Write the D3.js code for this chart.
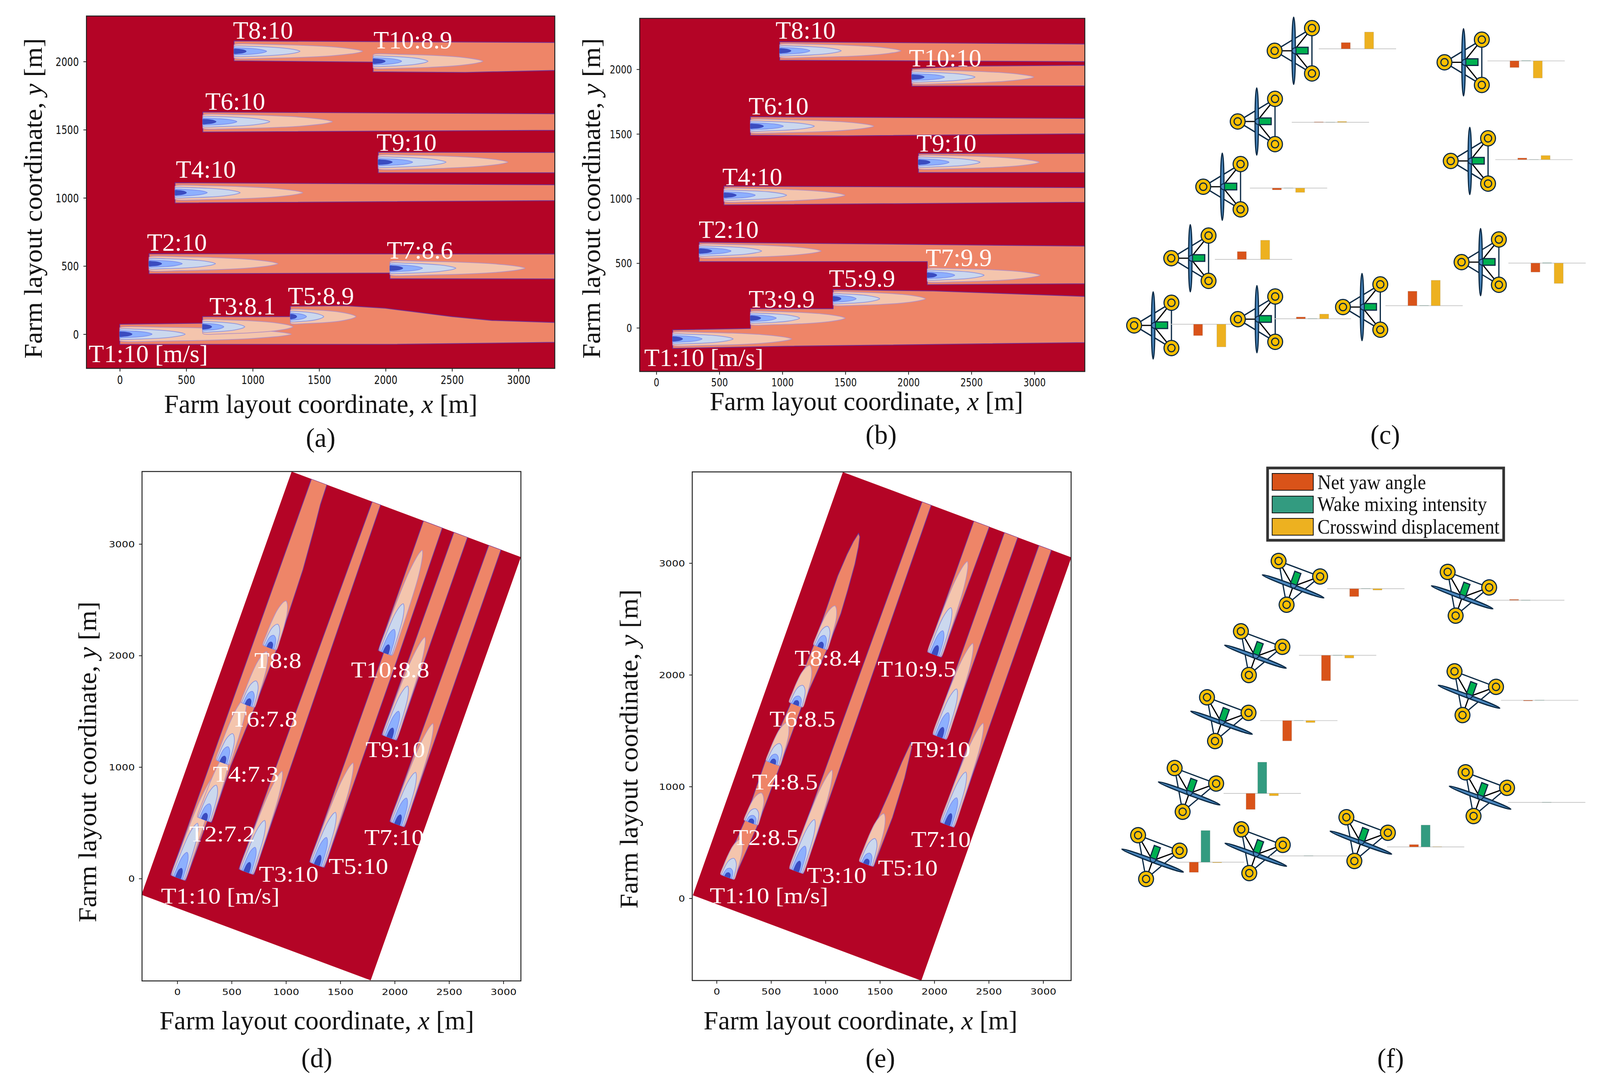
<!DOCTYPE html>
<html>
<head>
<meta charset="utf-8">
<script src="https://cdn.jsdelivr.net/npm/d3@7"></script>
<style>
  html, body { margin: 0; padding: 0; background: #fff; overflow: hidden; }
  svg { display: block; }
</style>
</head>
<body>
<div id="container"></div>
<script>
/* CONSTANTS AND GLOBALS */
const width = 4202, height = 2780;
const serif = "'Liberation Serif', serif";

/* DATA */
const turbines = ["T1","T2","T3","T4","T5","T6","T7","T8","T9","T10"];
const xTicks = [0,500,1000,1500,2000,2500,3000];
const yTicksFlat = [0,500,1000,1500,2000];
const yTicksTall = [0,1000,2000,3000];

// turbine positions [m], T1..T10
const xA = [0,220,623,416,1284,625,2033,860,1945,1906];
const yA = [0,517,54,1038,129,1559,484,2075,1262,2002];
const xB = [130,340,747,537,1403,747,2150,979,2080,2028];
const yB = [-86,594,75,1026,225,1560,407,2143,1281,1940];
const xD = [8,246,636,416,1284,647,2023,848,1951,1917];
const yD = [7,529,60,1041,124,1556,487,2071,1265,2021];
const xE = [98,315,731,516,1373,728,2118,952,2049,2001];
const yE = [191,677,244,1208,308,1732,659,2246,1445,2182];

// inflow speed at each turbine [m/s]
const speedA = ["10","10","8.1","10","8.9","10","8.6","10","10","8.9"];
const speedB = ["10","10","9.9","10","9.9","10","9.9","10","10","10"];
const speedD = ["10","7.2","10","7.3","10","7.8","10","8","10","8.8"];
const speedE = ["10","8.5","10","8.5","10","8.5","10","8.4","10","9.5"];

// downstream length of each speed contour [m], deepest level first
const lenA = [[92,243,492,1290],[95,250,500,970],[68,160,318,680],[85,242,490,961],[47,121,251,493],
              [99,256,504,975],[96,245,496,1016],[91,245,496,967],[105,259,510,975],[91,215,413,826]];
const lenB = [[78,233,480,944],[100,253,496,968],[81,205,391,752],[97,248,497,960],[62,183,370,733],
              [103,261,507,978],[75,218,451,895],[89,240,488,962],[92,243,489,958],[97,259,501,967]];
const lenD = [[90,242,520,970],[60,150,328,650],[90,234,491,960],[60,150,275,620],[90,260,500,971],
              [60,130,230,510],[90,250,495,960],[53,117,223,446],[90,250,491,956],[80,227,472,982]];
const lenE = [[40,83,177,358],[35,68,132,283],[94,237,490,961],[40,87,188,388],[45,102,241,479],
              [40,83,185,377],[105,256,501,965],[49,113,200,396],[90,230,456,889],[85,226,445,885]];

// half width of each contour [m] and the bullet outline (along, across) as fractions
const halfFlat = [17,25,38,53];
const halfTilted = [24,42,56,68];
const bulletAlong = [0,.015,.25,.5,.75,.9,.97,1];
const bulletFlat = [.88,1,.96,.85,.63,.37,.17,0];
const bulletTilted = [.9,1,.98,.9,.72,.45,.22,0];

// outer wake envelopes in the wind frame [along, across]
const bandsA = [
  [[860,2005],[860,2151],[3273,2140],[3273,1935],[2600,1920],[1906,1925],[1906,1996]],
  [[625,1483],[625,1630],[3273,1617],[3273,1496]],
  [[1945,1184],[1945,1335],[3273,1333],[3273,1184]],
  [[416,962],[416,1111],[3273,1096],[3273,980]],
  [[220,443],[220,590],[3273,588],[3273,405],[2033,407],[2033,448]],
  [[0,-75],[0,73],[623,80],[623,129],[1284,129],[1284,205],[1700,209],[2000,190],[2200,166],[2350,147],[2500,129],[2800,101],[3273,86],[3273,-60],[2000,-75]]
];
const bandsB = [
  [[979,2070],[979,2213],[3400,2195],[3400,2059]],
  [[2028,1870],[2028,2006],[2500,2025],[3400,2031],[3400,1872]],
  [[747,1490],[747,1633],[3400,1620],[3400,1501],[1500,1485]],
  [[2080,1201],[2080,1349],[3400,1349],[3400,1201]],
  [[537,951],[537,1096],[3400,1085],[3400,971]],
  [[340,512],[340,662],[3400,632],[3400,341],[2150,334],[2150,512]],
  [[130,-159],[130,-16],[747,-5],[747,148],[1403,148],[1403,296],[2200,285],[3400,243],[3400,-114],[1000,-143]]
];
const bandsD = [
  [[9,69],[3790,66],[3790,-86],[3600,-91],[3400,-110],[3000,-140],[2600,-150],[2236,-157],[1683,-145],[1120,-118],[581,-124],[581,-85],[9,-79]],
  [[274,-503],[3790,-529],[3790,-612],[274,-651]],
  [[556,-1091],[2555,-1091],[2555,-1036],[3790,-1031],[3790,-1216],[2555,-1230],[556,-1239]],
  [[1856,-1326],[3790,-1329],[3790,-1463],[1856,-1474]],
  [[1150,-1660],[3790,-1670],[3790,-1790],[1150,-1808]]
];
const bandsE = [
  [[213,34],[736,-5],[1298,0],[1839,-41],[2431,-63],[3092,-58],[3300,-72],[3430,-88],[3516,-108],[3490,-130],[3400,-150],[3244,-172],[3000,-190],[2784,-202],[2441,-193],[1871,-148],[1311,-143],[734,-131],[213,-92]],
  [[479,-536],[3982,-560],[3982,-650],[479,-674]],
  [[760,-1119],[1100,-1140],[1422,-1165],[1727,-1181],[1924,-1200],[1880,-1225],[1603,-1256],[1233,-1272],[760,-1259]],
  [[2735,-1065],[3982,-1066],[3982,-1218],[2735,-1205]],
  [[2059,-1365],[3982,-1365],[3982,-1496],[2059,-1499]],
  [[1343,-1698],[3982,-1702],[3982,-1825],[1343,-1834]]
];

// bars next to the turbine sketches, T1..T10
const barCategories = ["Net yaw angle","Wake mixing intensity","Crosswind displacement"];
const yawC = [-29,20,4.5,-4.5,37,1,-23,16,4,-17];
const mixC = [0,0,.5,.3,.5,.3,.8,0,.3,.8];
const crossC = [-58,49,12,-11,65,2,-52,43,10.5,-44];
const yawF = [-26,-41,0,-52,6,-65,0,-20,-1.5,2];
const mixF = [81,80,.5,.5,56,.5,.5,.5,.5,.5];
const crossF = [-1.4,-6,0,-5,.7,-7,0,-3.5,0,0];

/* COLORS */
const bg = "#b40426";
const levelFill = ["#3b4cc0","#8db0fe","#cbd8ee","#f4c5ad"];
const levelLine = ["#3b4cc0","#7d8fee","#8f93dc","#b48fc0"];
const bandFill = "#ee8568", bandLine = "#6f2f96";
const barFill = ["#d95319","#339b80","#edb120"];

/* PANEL LAYOUT */
const panels = [
  {id:"a", x:xA, y:yA, speed:speedA, len:lenA, bands:bandsA, half:halfFlat, bullet:bulletFlat, angle:0, yTicks:yTicksFlat,
   xDomain:[-251,3273], yDomain:[-251,2334], left:227, right:1457, top:41, bottom:943,
   field:{s:[-251,3273], n:[-251,2334]}, tick:{size:24, sx:1, sy:1.23, base:40, yoff:20}, lab:{size:64, stretch:1.03},
   labelAt:[[233,927],[386,642],[550,805],[462,455],[756,779],[539,281],[1016,662],[612,99],[989,386],[981,124]],
   xLabel:[431,1254,1057], yLabel:[110,98,918], tag:[842,1144]},
  {id:"b", x:xB, y:yB, speed:speedB, len:lenB, bands:bandsB, half:halfFlat, bullet:bulletFlat, angle:0, yTicks:yTicksFlat,
   xDomain:[-132,3400], yDomain:[-338,2394], left:1680, right:2849, top:47, bottom:951,
   field:{s:[-132,3400], n:[-338,2394]}, tick:{size:23, sx:1, sy:1.23, base:38, yoff:20}, lab:{size:64, stretch:1.03},
   labelAt:[[1692,937],[1835,609],[1966,787],[1897,474],[2177,734],[1966,293],[2431,681],[2037,99],[2407,388],[2387,170]],
   xLabel:[1864,2687,1050], yLabel:[1576,98,918], tag:[2314,1136]},
  {id:"d", x:xD, y:yD, speed:speedD, len:lenD, bands:bandsD, half:halfTilted, bullet:bulletTilted, angle:70, yTicks:yTicksTall,
   xDomain:[-324,3161], yDomain:[-918,3650], left:373, right:1368, top:1207, bottom:2511,
   field:{s:[-250,3790], n:[-1985,260]}, tick:{size:24, sx:1.12, sy:.92, base:36, yoff:19}, lab:{size:58, stretch:1.13},
   labelAt:[[423,2313],[497,2154],[680,2257],[559,2001],[863,2237],[608,1860],[957,2163],[668,1710],[960,1938],[922,1734]],
   xLabel:[419,1245,2635], yLabel:[252,1540,2361], tag:[832,2732]},
  {id:"e", x:xE, y:yE, speed:speedE, len:lenE, bands:bandsE, half:halfTilted, bullet:bulletTilted, angle:70, yTicks:yTicksTall,
   xDomain:[-224,3257], yDomain:[-736,3816], left:1818, right:2813, top:1208, bottom:2510,
   field:{s:[-50,3982], n:[-2020,215]}, tick:{size:24, sx:1.12, sy:.92, base:36, yoff:19}, lab:{size:58, stretch:1.13},
   labelAt:[[1864,2312],[1925,2163],[2119,2260],[1975,2021],[2306,2241],[2021,1860],[2393,2168],[2087,1704],[2392,1938],[2305,1732]],
   xLabel:[1848,2672,2635], yLabel:[1674,1509,2326], tag:[2312,2732]}
];

const sketchC = {
  tag:["(c)",3638,1136], turn:0, yaw:yawC, mix:mixC, cross:crossC,
  hub:[[3028.5,833],[3126,661],[3301,817],[3210,478],[3577,786],[3300.5,311],[3888.4,671],[3397.5,130],[3860,412],[3843.6,159.5]],
  bar:[[3177,830],[3292,664],[3447,816],[3384,481.5],[3740,782.5],[3494,313],[4063,673.5],[3565,125],[4028.5,408.6],[4008,155.8]]
};
const sketchF = {
  tag:["(f)",3652,2732], turn:-70, yaw:yawF, mix:mixF, cross:crossF,
  hub:[[3027,2203],[3123,2031],[3298,2188],[3208,1850],[3574,2157],[3297,1681],[3887,2042],[3396,1501],[3858,1783.5],[3840,1529]],
  bar:[[3166,2207],[3315,2031],[3436.5,2191],[3411,1844.6],[3744,2168],[3513,1677.5],[4062,2054],[3587,1507],[4043.5,1792.6],[4007,1536.5]]
};

/* HTML ELEMENTS */
// the browser window can come out narrower than the figure, so fit the whole figure into it
const svg = d3.select("#container").append("svg")
  .attr("width", window.innerWidth).attr("height", window.innerHeight)
  .attr("viewBox", `0 0 ${width} ${height}`)
  .attr("preserveAspectRatio", "none");

const curved = d3.line().curve(d3.curveCatmullRom.alpha(.5));
const straight = d3.line();

panels.forEach(p => {
  /* SCALES */
  const xScale = d3.scaleLinear().domain(p.xDomain).range([p.left, p.right]);
  const yScale = d3.scaleLinear().domain(p.yDomain).range([p.bottom, p.top]);
  const a = p.angle * Math.PI / 180;
  // wind frame -> pixels
  const toPx = ([s, n]) => [xScale(s*Math.cos(a) - n*Math.sin(a)), yScale(s*Math.sin(a) + n*Math.cos(a))];

  const g = svg.append("g").attr("class", "panel-" + p.id);
  const clipId = "clip-" + p.id;
  const corners = [[p.field.s[0],p.field.n[0]],[p.field.s[1],p.field.n[0]],[p.field.s[1],p.field.n[1]],[p.field.s[0],p.field.n[1]]];
  g.append("clipPath").attr("id", clipId).append("path").attr("d", straight(corners.map(toPx)) + "Z");

  const field = g.append("g").attr("clip-path", `url(#${clipId})`);
  field.append("path").attr("d", straight(corners.map(toPx)) + "Z").attr("fill", bg);

  // outer wake envelopes
  field.selectAll("path.band").data(p.bands).join("path").attr("class", "band")
    .attr("d", d => straight(d.map(toPx)) + "Z")
    .attr("fill", bandFill).attr("stroke", bandLine).attr("stroke-width", 2).attr("stroke-linejoin", "round");

  // contour levels of each turbine, upstream ones first so later ones lie on top
  const along = i => p.x[i]*Math.cos(a) + p.y[i]*Math.sin(a);
  const across = i => -p.x[i]*Math.sin(a) + p.y[i]*Math.cos(a);
  const order = d3.range(turbines.length).sort((i, j) => along(i) - along(j));
  order.forEach(i => {
    [3,2,1,0].forEach(l => {
      const low = bulletAlong.map((f, k) => [along(i) + f*p.len[i][l], across(i) - p.bullet[k]*p.half[l]]);
      const up = bulletAlong.slice(0,-1).reverse().map(f => {
        const k = bulletAlong.indexOf(f);
        return [along(i) + f*p.len[i][l], across(i) + p.bullet[k]*p.half[l]];
      });
      field.append("path")
        .attr("d", curved(low.concat(up).map(toPx)) + "Z")
        .attr("fill", levelFill[l]).attr("stroke", levelLine[l]).attr("stroke-width", 1.8);
    });
  });

  // frame and axes
  g.append("rect").attr("x", p.left).attr("y", p.top)
    .attr("width", p.right - p.left).attr("height", p.bottom - p.top)
    .attr("fill", "none").attr("stroke", "#222").attr("stroke-width", 2.5);

  const xAxis = g.append("g").attr("transform", `translate(0,${p.bottom})`)
    .call(d3.axisBottom(xScale).tickValues(xTicks).tickFormat(d3.format("d")).tickSize(8).tickSizeOuter(0));
  const yAxis = g.append("g").attr("transform", `translate(${p.left},0)`)
    .call(d3.axisLeft(yScale).tickValues(p.yTicks).tickFormat(d3.format("d")).tickSize(8).tickSizeOuter(0));
  g.selectAll(".domain").remove();
  g.selectAll(".tick line").attr("stroke", "#222").attr("stroke-width", 2);
  g.selectAll(".tick text").style("font-family", "'DejaVu Sans'").style("font-size", p.tick.size + "px").attr("fill", "#111");
  xAxis.selectAll("text").attr("dy", 0).attr("y", p.tick.base / p.tick.sy)
    .attr("transform", `scale(${p.tick.sx},${p.tick.sy})`);
  yAxis.selectAll("text").attr("x", -p.tick.yoff / p.tick.sx)
    .attr("transform", `scale(${p.tick.sx},${p.tick.sy})`).attr("dy", ".36em");

  // white turbine labels
  g.selectAll("text.turb").data(turbines).join("text").attr("class", "turb")
    .attr("x", (d, i) => p.labelAt[i][0]).attr("y", (d, i) => p.labelAt[i][1])
    .style("font-family", serif).style("font-size", p.lab.size + "px").attr("fill", "#fff")
    .text((d, i) => `${d}:${p.speed[i]}` + (i === 0 ? " [m/s]" : ""))
    .each(function() {
      d3.select(this).attr("textLength", this.getComputedTextLength() * p.lab.stretch)
        .attr("lengthAdjust", "spacingAndGlyphs");
    });

  // axis titles
  const xt = g.append("text").attr("x", p.xLabel[0]).attr("y", p.xLabel[2])
    .style("font-family", serif).style("font-size", "68px").attr("fill", "#111")
    .attr("textLength", p.xLabel[1] - p.xLabel[0]).attr("lengthAdjust", "spacingAndGlyphs");
  xt.append("tspan").text("Farm layout coordinate, ");
  xt.append("tspan").style("font-style", "italic").text("x");
  xt.append("tspan").text(" [m]");

  const yt = g.append("text")
    .attr("transform", `translate(${p.yLabel[0]},${p.yLabel[2]}) rotate(-90)`)
    .style("font-family", serif).style("font-size", "68px").attr("fill", "#111")
    .attr("textLength", p.yLabel[2] - p.yLabel[1]).attr("lengthAdjust", "spacingAndGlyphs");
  yt.append("tspan").text("Farm layout coordinate, ");
  yt.append("tspan").style("font-style", "italic").text("y");
  yt.append("tspan").text(" [m]");

  g.append("text").attr("x", p.tag[0]).attr("y", p.tag[1]).attr("text-anchor", "middle")
    .style("font-family", serif).style("font-size", "70px").attr("fill", "#111").text(`(${p.id})`);
});

/* TURBINE SKETCHES WITH BARS */
const barX = d3.scaleBand().domain(barCategories).range([-42.5,42.5]).paddingInner(.22);
const barY = d3.scaleLinear().domain([-100,100]).range([100,-100]);

function drawFloater(sel) {
  const navy = "#0b2a45";
  const rings = [[-50,0],[48,-58],[48,58]];
  const frame = [[rings[0],rings[1]],[rings[0],rings[2]],[rings[1],rings[2]]];
  sel.selectAll("line.frame").data(frame).join("line").attr("class", "frame")
    .attr("x1", d => d[0][0]).attr("y1", d => d[0][1]).attr("x2", d => d[1][0]).attr("y2", d => d[1][1])
    .attr("stroke", navy).attr("stroke-width", 3.2);
  sel.selectAll("line.spoke").data(rings).join("line").attr("class", "spoke")
    .attr("x1", 0).attr("y1", 0).attr("x2", d => d[0]).attr("y2", d => d[1])
    .attr("stroke", "#000").attr("stroke-width", 3.2);
  sel.selectAll("circle.outer").data(rings).join("circle").attr("class", "outer")
    .attr("cx", d => d[0]).attr("cy", d => d[1]).attr("r", 19.5)
    .attr("fill", "#ffc000").attr("stroke", navy).attr("stroke-width", 3);
  sel.selectAll("circle.inner").data(rings).join("circle").attr("class", "inner")
    .attr("cx", d => d[0]).attr("cy", d => d[1]).attr("r", 9.5)
    .attr("fill", "#ffc000").attr("stroke", navy).attr("stroke-width", 3);
  sel.append("rect").attr("x", 5).attr("y", -9).attr("width", 33).attr("height", 17)
    .attr("fill", "#00b050").attr("stroke", navy).attr("stroke-width", 3);
  sel.append("ellipse").attr("cx", 0).attr("cy", 0).attr("rx", 4.5).attr("ry", 86)
    .attr("fill", "#4a86bd").attr("stroke", navy).attr("stroke-width", 3);
  sel.append("path").attr("d", "M6,-7 A7.5,7.5 0 1 0 6,7 Z")
    .attr("fill", "#4a86bd").attr("stroke", navy).attr("stroke-width", 2.5);
}

[sketchC, sketchF].forEach(sk => {
  const g = svg.append("g");
  turbines.forEach((t, i) => {
    const icon = g.append("g").attr("transform", `translate(${sk.hub[i][0]},${sk.hub[i][1]}) rotate(${sk.turn})`);
    drawFloater(icon);

    const bars = g.append("g").attr("transform", `translate(${sk.bar[i][0]},${sk.bar[i][1]})`);
    bars.append("line").attr("x1", -101.5).attr("x2", 101.5)
      .attr("stroke", "#c9c9c9").attr("stroke-width", 1.8);
    const vals = [sk.yaw[i], sk.mix[i], sk.cross[i]];
    bars.selectAll("rect").data(vals).join("rect")
      .attr("x", (d, j) => barX(barCategories[j]))
      .attr("y", d => Math.min(barY(d), barY(0)))
      .attr("width", barX.bandwidth())
      .attr("height", d => Math.abs(barY(d) - barY(0)))
      .attr("fill", (d, j) => barFill[j])
      .attr("stroke", "#999").attr("stroke-opacity", .5).attr("stroke-width", .8);
  });
  g.append("text").attr("x", sk.tag[1]).attr("y", sk.tag[2]).attr("text-anchor", "middle")
    .style("font-family", serif).style("font-size", "70px").attr("fill", "#111").text(sk.tag[0]);
});

/* LEGEND */
const legend = svg.append("g");
legend.append("rect").attr("x", 3329).attr("y", 1198).attr("width", 620).attr("height", 185)
  .attr("fill", "#fff").attr("stroke", "#333").attr("stroke-width", 7);
const legendTop = [1212,1270,1327], legendBase = [1252,1308,1366];
barCategories.forEach((c, i) => {
  legend.append("rect").attr("x", 3341).attr("y", legendTop[i]).attr("width", 108).attr("height", 43)
    .attr("fill", barFill[i]).attr("stroke", "#111").attr("stroke-width", 2);
  legend.append("text").attr("x", 3460).attr("y", legendBase[i])
    .style("font-family", serif).style("font-size", "52px").attr("fill", "#111")
    .attr("textLength", [285,445,478][i]).attr("lengthAdjust", "spacingAndGlyphs").text(c);
});
</script>
</body>
</html>
